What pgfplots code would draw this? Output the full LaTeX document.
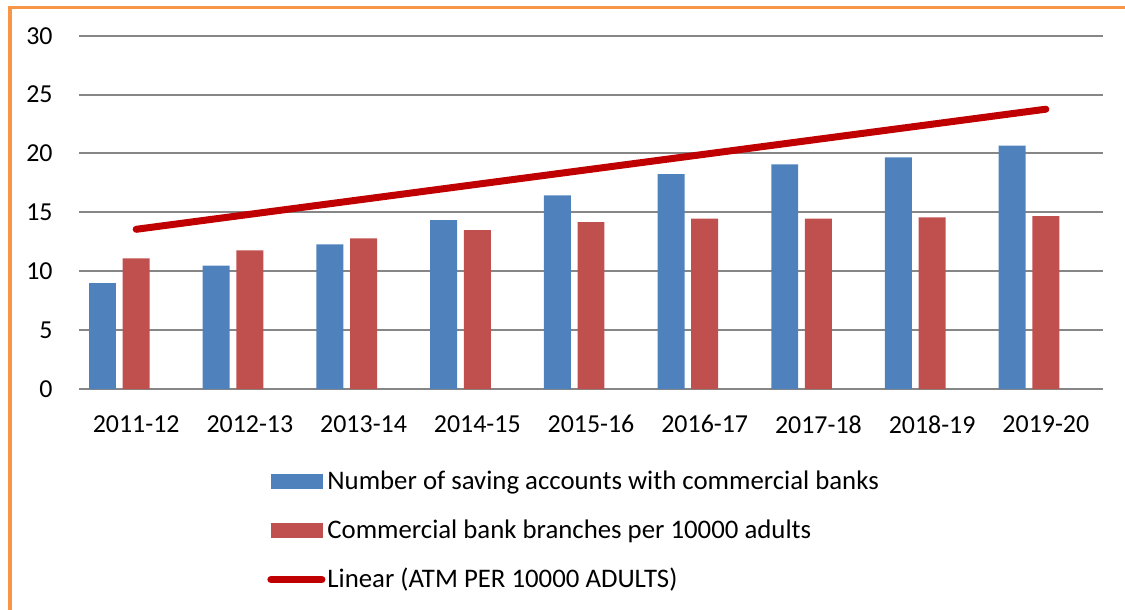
\documentclass[border=0pt]{standalone}
\usepackage{fontspec}
\setmainfont{Carlito}
\usepackage{pgfplots}
\pgfplotsset{compat=1.18}
\definecolor{barblue}{HTML}{4F81BD}
\definecolor{barred}{HTML}{C0504D}
\definecolor{trend}{HTML}{C00000}
\definecolor{gridgray}{HTML}{868686}
\definecolor{frameorange}{HTML}{F79646}
\newcommand{\chartfont}{\fontsize{13}{15.6}\selectfont}
\newcommand{\legendfont}{\fontsize{13.45}{16}\selectfont}
\begin{document}
\begin{tikzpicture}
\useasboundingbox (0,0) rectangle (562.5bp,-305bp);
\draw[frameorange, line width=2.2bp] (4.85bp,-3.75bp) -- (4.85bp,-320bp);
\draw[frameorange, line width=1.6bp] (4.0bp,-3.75bp) -- (580bp,-3.75bp);
\begin{axis}[
  at={(39.65bp,-194.5bp)}, anchor=south west,
  scale only axis, width=511.7bp, height=176.65bp,
  xmin=-0.5, xmax=8.5, ymin=0, ymax=30,
  ytick={0,5,...,30},
  xtick={0,...,8},
  xticklabels={2011-12,2012-13,2013-14,2014-15,2015-16,2016-17,2017-18,2018-19,2019-20},
  ymajorgrids, grid style={gridgray, line width=1bp},
  axis line style={draw=none},
  tick style={draw=none},
  major tick length=0pt,
  tick label style={font=\chartfont},
  /pgf/number format/assume math mode=true,
  yticklabel style={inner sep=0pt, anchor=east, xshift=-13.15bp},
  xticklabel style={inner sep=0pt, anchor=north, yshift=-13bp},
  legend style={draw=none, fill=none, at={(0.1834,-0.2313)}, anchor=north west,
    inner sep=0pt, nodes={inner sep=0pt, anchor=west}, row sep=13.5bp,
    column sep=1bp, font=\legendfont},
  legend cell align=left,
]
\addplot[ybar, bar width=0.237, bar shift=-0.296, fill=barblue, draw=none,
  legend image code/.code={\fill[barblue] (0bp,-3.75bp) rectangle (26bp,3.75bp);}]
  coordinates {(0,9.0) (1,10.47) (2,12.28) (3,14.35) (4,16.45) (5,18.25) (6,19.07) (7,19.67) (8,20.66)};
\addlegendentry{Number of saving accounts with commercial banks}
\addplot[ybar, bar width=0.237, bar shift=0, fill=barred, draw=none,
  legend image code/.code={\fill[barred] (0bp,-3.75bp) rectangle (26bp,3.75bp);}]
  coordinates {(0,11.09) (1,11.78) (2,12.8) (3,13.5) (4,14.18) (5,14.47) (6,14.47) (7,14.57) (8,14.68)};
\addlegendentry{Commercial bank branches per 10000 adults}
\addplot[trend, line width=3.5bp, line cap=round,
  legend image code/.code={\draw[trend, line width=3.5bp, line cap=round] (0bp,0bp) -- (25.5bp,0bp);}]
  coordinates {(0,13.56) (8,23.76)};
\addlegendentry{Linear (ATM PER 10000 ADULTS)}
\end{axis}
\end{tikzpicture}
\end{document}
